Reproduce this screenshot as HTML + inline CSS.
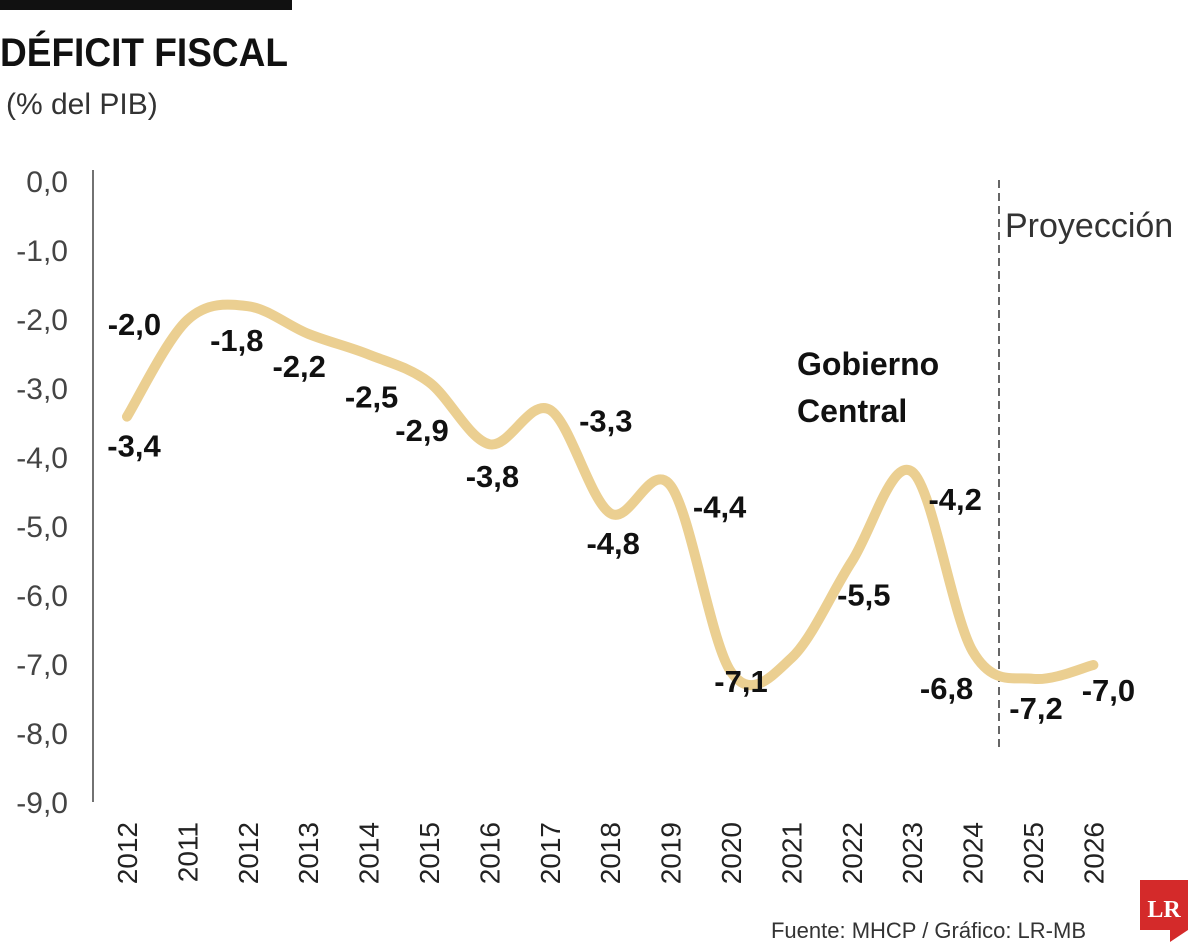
<!DOCTYPE html>
<html><head><meta charset="utf-8"><style>
html,body{margin:0;padding:0;background:#fff;}
svg{display:block;font-family:"Liberation Sans",sans-serif;}
</style></head><body>
<svg id="chart" width="1200" height="952" viewBox="0 0 1200 952">
<rect x="0" y="0" width="292" height="10" fill="#111"/>
<text x="0" y="66" font-size="40" font-weight="bold" fill="#111" textLength="288" lengthAdjust="spacingAndGlyphs">DÉFICIT FISCAL</text>
<text x="6" y="114" font-size="30" fill="#333">(% del PIB)</text>
<line x1="93" y1="170" x2="93" y2="802" stroke="#444" stroke-width="1.5"/>
<line x1="999" y1="180" x2="999" y2="748" stroke="#333" stroke-width="1.5" stroke-dasharray="8,5"/>
<text x="1005" y="237" font-size="34" fill="#333">Proyección</text>
<text x="797" y="375" font-size="32" font-weight="bold" fill="#111">Gobierno</text>
<text x="797" y="422" font-size="32" font-weight="bold" fill="#111">Central</text>
<g id="yticks"></g><g id="xticks"></g><g id="line"></g><g id="labels"></g>
<text x="1086" y="938" font-size="22" fill="#333" text-anchor="end">Fuente: MHCP / Gráfico: LR-MB</text>
<g>
<path d="M1140 880 H1188 V930 L1170 942 V930 H1140 Z" fill="#d42a2a"/>
<text x="1164" y="917" font-size="24" font-weight="bold" fill="#fff" text-anchor="middle" font-family="Liberation Serif,serif">LR</text>
</g>
</svg>
<script>
const categories = ["2012","2011","2012","2013","2014","2015","2016","2017","2018","2019","2020","2021","2022","2023","2024","2025","2026"];
const values = [-3.4,-2.0,-1.8,-2.2,-2.5,-2.9,-3.8,-3.3,-4.8,-4.4,-7.1,-6.9,-5.5,-4.2,-6.8,-7.2,-7.0];
const valueLabels = ["-3,4","-2,0","-1,8","-2,2","-2,5","-2,9","-3,8","-3,3","-4,8","-4,4","-7,1","","-5,5","-4,2","-6,8","-7,2","-7,0"];
const yTickValues = [0,-1,-2,-3,-4,-5,-6,-7,-8,-9];
const yTickLabels = ["0,0","-1,0","-2,0","-3,0","-4,0","-5,0","-6,0","-7,0","-8,0","-9,0"];
const labelDx = [7,-53,-11,-9,3,-7,3,56,3,49,10,0,12,43,-26,3,15];
const labelDy = [29,4,34,32,42,48,32,11,30,21,9,0,33,27,37,29,25];
const NS="http://www.w3.org/2000/svg";
const xS = i => 127 + i*60.4;
const yS = v => 182 - v*69;
function mk(tag, attrs, parent){const e=document.createElementNS(NS,tag);for(const k in attrs)e.setAttribute(k,attrs[k]);document.getElementById(parent).appendChild(e);return e;}
yTickValues.forEach((v,i)=>{
  const t=mk("text",{x:68,y:yS(v)+10,"font-size":30,fill:"#444","text-anchor":"end"},"yticks");
  t.textContent=yTickLabels[i];
  
  
});
categories.forEach((c,i)=>{
  const x=xS(i)+10;
  const t=mk("text",{x:x,y:822,"font-size":28,fill:"#222","text-anchor":"end",transform:`rotate(-90 ${x} 822)`},"xticks");
  t.textContent=c;
  
  
});
const pts=values.map((v,i)=>[xS(i),yS(v)]);
let d=`M${pts[0][0]},${pts[0][1]}`;
for(let i=0;i<pts.length-1;i++){
  const p0=pts[i-1]||pts[i],p1=pts[i],p2=pts[i+1],p3=pts[i+2]||p2;
  const c1=[p1[0]+(p2[0]-p0[0])/6,p1[1]+(p2[1]-p0[1])/6];
  const c2=[p2[0]-(p3[0]-p1[0])/6,p2[1]-(p3[1]-p1[1])/6];
  d+=` C${c1[0]},${c1[1]} ${c2[0]},${c2[1]} ${p2[0]},${p2[1]}`;
}
const path=mk("path",{d:d,fill:"none",stroke:"#ebcf91","stroke-width":10,"stroke-linecap":"round","stroke-linejoin":"round"},"line");


values.forEach((v,i)=>{
  if(!valueLabels[i])return;
  const t=mk("text",{x:xS(i)+labelDx[i],y:yS(v)+labelDy[i]+11,"font-size":31,"font-weight":"bold",fill:"#111","text-anchor":"middle"},"labels");
  t.textContent=valueLabels[i];
  
  
});
</script>
</body></html>
